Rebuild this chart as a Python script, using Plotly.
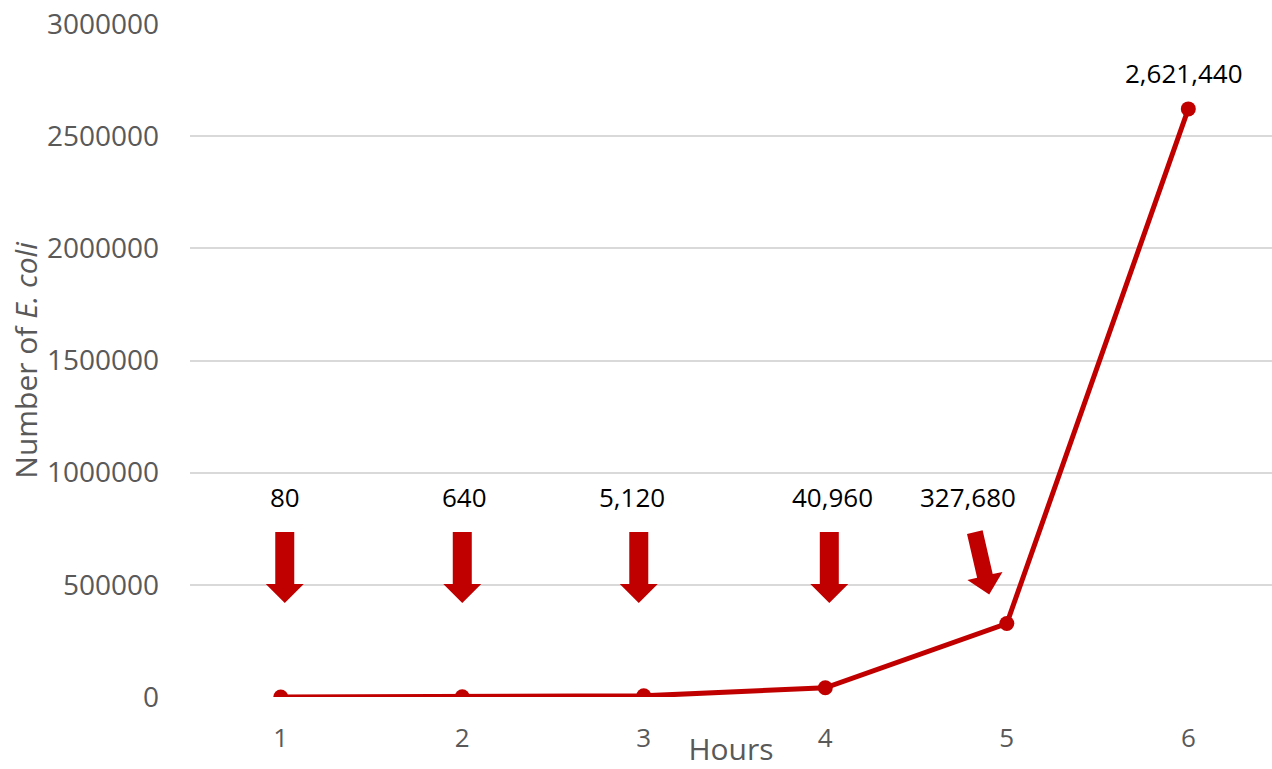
import math
import plotly.graph_objects as go

# ---- data ----
hours = [1, 2, 3, 4, 5, 6]
ecoli = [80, 640, 5120, 40960, 327680, 2621440]
value_labels = ["80", "640", "5,120", "40,960", "327,680", "2,621,440"]
y_ticks = [0, 500000, 1000000, 1500000, 2000000, 2500000, 3000000]
y_ticktext = ["0", "500000", "1000000", "1500000", "2000000", "2500000", "3000000"]

RED = "#C00000"
GRAY = "#595959"
FONT = "Open Sans"

fig = go.Figure()
fig.add_trace(go.Scatter(
    x=hours, y=ecoli, mode="lines+markers",
    line=dict(color=RED, width=5),
    marker=dict(color=RED, size=15),
    hoverinfo="x+y", showlegend=False,
))

# label placement (styling): label y-level, x pixel shifts
LABEL_Y = 891000
label_xshift = [4, 2, -12, 7, -39, -4]
for i, (h, v, t) in enumerate(zip(hours, ecoli, value_labels)):
    if i < 5:
        fig.add_annotation(x=h, y=LABEL_Y, xref="x", yref="y", text=t,
                           showarrow=False, xshift=label_xshift[i],
                           font=dict(family=FONT, size=26, color="black"))
    else:
        fig.add_annotation(x=h, y=v, xref="x", yref="y", text=t,
                           showarrow=False, xshift=label_xshift[i], yshift=36,
                           font=dict(family=FONT, size=26, color="black"))

# block arrows (pixel-sized shapes anchored at each hour)
ARROW_TOP = 735000


def arrow_path(half_shaft, half_head, length, head_len, angle_deg=0.0, dx=0.0):
    pts = [(-half_shaft, 0), (half_shaft, 0), (half_shaft, -(length - head_len)),
           (half_head, -(length - head_len)), (0, -length),
           (-half_head, -(length - head_len)), (-half_shaft, -(length - head_len))]
    a = math.radians(angle_deg)
    out = []
    for px, py in pts:
        rx = px * math.cos(a) - py * math.sin(a) + dx
        ry = px * math.sin(a) + py * math.cos(a)
        out.append((rx, ry))
    return "M " + " L ".join(f"{x:.1f},{y:.1f}" for x, y in out) + " Z"


arrow_dx = [4, 0, -5, 4]
for i in range(4):
    fig.add_shape(type="path", xref="x", yref="y",
                  xsizemode="pixel", ysizemode="pixel",
                  xanchor=hours[i], yanchor=ARROW_TOP,
                  path=arrow_path(9.5, 19, 71, 19, 0, arrow_dx[i]),
                  fillcolor=RED, line=dict(width=0))
# tilted arrow at hour 5
fig.add_shape(type="path", xref="x", yref="y",
              xsizemode="pixel", ysizemode="pixel",
              xanchor=hours[4], yanchor=ARROW_TOP,
              path=arrow_path(8, 18, 64, 19, 13, -32),
              fillcolor=RED, line=dict(width=0))

fig.update_layout(
    width=1272, height=769,
    margin=dict(l=190, r=0, t=24, b=72),
    paper_bgcolor="white", plot_bgcolor="white",
    font=dict(family=FONT, color=GRAY),
    xaxis=dict(
        range=[0.5, 6.461], tickvals=hours, ticktext=[str(h) for h in hours],
        showgrid=False, zeroline=False, showline=False,
        tickfont=dict(family=FONT, size=26, color=GRAY),
        ticks="", ticklabelstandoff=23,
        title=dict(text="Hours", font=dict(family=FONT, size=30, color=GRAY), standoff=6),
        automargin=False,
    ),
    yaxis=dict(
        range=[0, 3000000], tickvals=y_ticks, ticktext=y_ticktext,
        showgrid=True, gridcolor="#D9D9D9", gridwidth=1.5,
        zeroline=False, showline=False,
        tickfont=dict(family=FONT, size=28, color=GRAY),
        ticks="", ticklabelstandoff=30,
        title=dict(text="Number of <i>E. coli</i>",
                   font=dict(family=FONT, size=30, color=GRAY), standoff=0),
        automargin=False,
    ),
)

fig.write_html("out.html")
